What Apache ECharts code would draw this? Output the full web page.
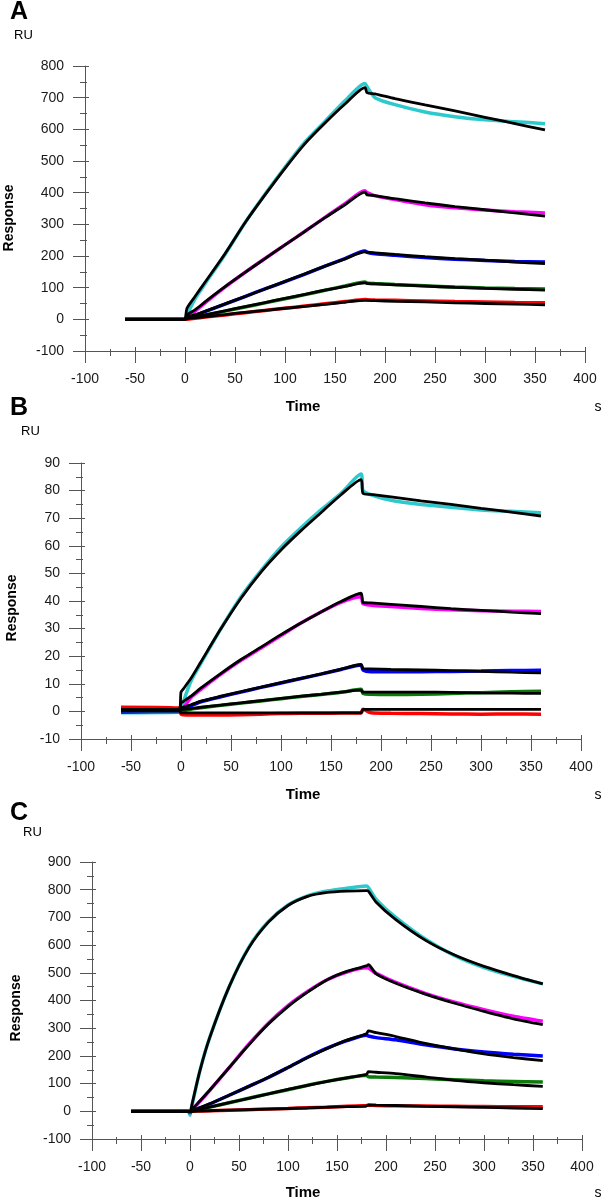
<!DOCTYPE html>
<html>
<head>
<meta charset="utf-8">
<script src="https://cdn.jsdelivr.net/npm/echarts@6/dist/echarts.min.js"></script>
<style>
html, body { margin: 0; padding: 0; background: #fff; }
#main { width: 608px; height: 1199px; }
</style>
</head>
<body>
<div id="main"></div>
<script>
// time points (s), shared by all curves
var times = [-60, -2, 0, 2, 10, 20, 40, 60, 80, 100, 120, 140, 160, 180, 182, 190, 210, 240, 270, 300, 330, 360];

// panel A (RU)
var cyanA = [0, 0, 0, 15, 65, 112, 205, 305, 395, 480, 560, 625, 690, 745, 735, 700, 678, 655, 640, 630, 624, 618];
var cyanAFit = [0, 0, 0, 35, 72, 117, 207, 305, 393, 477, 555, 620, 680, 732, 716, 712, 697, 677, 658, 638, 618, 598];
var magentaA = [0, 0, 0, 5, 25, 52, 102, 148, 192, 235, 278, 322, 365, 406, 400, 390, 378, 362, 352, 345, 340, 336];
var magentaAFit = [0, 0, 0, 14, 30, 55, 103, 148, 192, 235, 278, 321, 362, 402, 393, 391, 381, 368, 356, 346, 336, 326];
var blueA = [0, 0, 0, 3, 12, 24, 48, 72, 96, 119, 143, 168, 192, 216, 212, 207, 202, 195, 190, 186, 183, 181];
var blueAFit = [0, 0, 0, 7, 14, 25, 49, 72, 96, 120, 144, 168, 191, 213, 212, 210, 205, 198, 192, 187, 181, 176];
var greenA = [0, 0, 0, 1, 6.5, 13, 26, 39, 52, 65, 78, 92, 105, 118, 115, 113, 110, 106, 102, 99, 97, 96];
var greenAFit = [0, 0, 0, 4, 8, 14, 27, 40, 53, 66, 79, 92, 104, 115, 113, 112, 109, 105, 101, 98, 95, 92];
var redA = [0, 0, 0, 0.5, 3.5, 7, 14, 21, 28, 35, 42, 49, 56, 63, 62, 61, 60, 58, 56, 55, 53, 52];
var redAFit = [0, 0, 0, 2, 4.5, 8, 15, 22, 28, 35, 41, 47, 54, 60, 60, 59, 57, 55, 52, 50, 48, 46];

// panel B
var cyanB = [-0.5, -0.3, 0, 3, 11, 17.5, 30, 41.5, 51, 59.5, 66.5, 73, 79, 86, 80, 78.5, 76.5, 75, 74, 73, 72.5, 72];
var cyanBFit = [0.5, 0.5, 7, 8, 12, 18, 30, 41, 50.5, 58.5, 65.5, 72, 78.5, 84, 79, 78.6, 77.7, 76.3, 75, 73.6, 72.2, 70.8];
var magentaB = [-0.3, 0, 0, 1, 5, 8, 13.5, 18.5, 23, 27.5, 32, 36, 39.5, 41.5, 39, 38.5, 38, 37.3, 36.8, 36.5, 36.3, 36.2];
var magentaBFit = [0.5, 0.5, 3, 3.5, 5.5, 8.5, 13.8, 18.8, 23.3, 27.8, 32, 36, 39.8, 42.8, 39.5, 39.3, 38.8, 38, 37.2, 36.6, 36, 35.4];
var blueB = [-0.2, 0, 0, 0.5, 2, 3.5, 5.3, 7, 8.7, 10.3, 11.9, 13.5, 15.2, 16.8, 15, 14.4, 14.4, 14.4, 14.5, 14.6, 14.8, 14.9];
var blueBFit = [0.5, 0.5, 1.2, 1.5, 2.4, 3.7, 5.5, 7.2, 8.8, 10.4, 12, 13.6, 15.3, 17, 15.5, 15.4, 15.2, 15, 14.8, 14.5, 14.2, 14];
var greenB = [0.3, 0.2, 0, 0.2, 0.8, 1.3, 2.2, 3, 3.8, 4.6, 5.4, 6.1, 6.9, 8, 6.5, 6.2, 6.1, 6.2, 6.5, 6.8, 7.1, 7.3];
var greenBFit = [0.5, 0.5, 0.6, 0.7, 1, 1.5, 2.3, 3.1, 3.9, 4.7, 5.5, 6.2, 7, 7.7, 7, 7, 7, 7, 6.9, 6.7, 6.6, 6.5];
var redB = [1.5, 1.2, -1, -1.2, -1.3, -1.3, -1.3, -1.2, -1, -0.8, -0.7, -0.7, -0.6, -0.6, 0.8, -0.5, -0.7, -0.8, -0.9, -1, -0.9, -1];
var redBFit = [0.5, 0.5, -0.5, -0.5, -0.5, -0.5, -0.5, -0.5, -0.5, -0.5, -0.5, -0.5, -0.5, -0.5, 0.7, 0.7, 0.7, 0.7, 0.7, 0.7, 0.7, 0.7];

// panel C
var cyanC = [0, 0, -14, 20, 145, 265, 450, 592, 685, 745, 778, 795, 805, 813, 808, 765, 700, 622, 562, 519, 487, 460];
var cyanCFit = [0, 0, 0, 25, 145, 265, 450, 590, 683, 743, 776, 790, 795, 797, 795, 755, 692, 618, 564, 523, 490, 460];
var magentaC = [0, 0, -5, 5, 35, 75, 158, 242, 318, 382, 433, 475, 503, 518, 517, 498, 465, 426, 394, 367, 343, 325];
var magentaCFit = [0, 0, 0, 6, 37, 76, 158, 240, 315, 378, 430, 475, 505, 525, 529, 496, 462, 423, 390, 361, 334, 313];
var blueC = [0, 0, -3, 2, 12, 26, 58, 90, 122, 158, 195, 228, 255, 275, 272, 266, 258, 240, 225, 214, 206, 200];
var blueCFit = [0, 0, 0, 3, 13, 27, 58, 90, 123, 158, 194, 227, 257, 280, 290, 284, 270, 245, 225, 207, 194, 183];
var greenC = [0, 0, -2, 1, 7, 15, 31, 47, 63, 78, 94, 108, 120, 130, 125, 124, 122, 118, 114, 110, 108, 106];
var greenCFit = [0, 0, 0, 1, 7, 15, 31, 47, 63, 79, 94, 108, 121, 133, 143, 141, 136, 124, 112, 103, 96, 90];
var redC = [0, 0, -2, 0, 1, 2, 4, 6, 8, 10, 13, 15, 18, 21, 22, 21, 20, 19, 18, 17, 16, 16];
var redCFit = [0, 0, 0, 0, 1, 2, 4, 6, 8, 10, 12, 15, 17, 19, 23, 22, 21, 18, 16, 14, 12, 10];

// axis ranges
var xRange = { min: -100, max: 400, step: 50 };
var yRanges = [
	{ min: -100, max: 800, step: 100 },
	{ min: -10, max: 90, step: 10 },
	{ min: -100, max: 900, step: 100 }
];
var panelLetters = ['A', 'B', 'C'];
var curveColors = ['#2ec9cc', '#ff00ff', '#0000ff', '#0b7a0b', '#ff0000'];

var panels = [
	{ data: [cyanA, magentaA, blueA, greenA, redA], fit: [cyanAFit, magentaAFit, blueAFit, greenAFit, redAFit] },
	{ data: [cyanB, magentaB, blueB, greenB, redB], fit: [cyanBFit, magentaBFit, blueBFit, greenBFit, redBFit] },
	{ data: [cyanC, magentaC, blueC, greenC, redC], fit: [cyanCFit, magentaCFit, blueCFit, greenCFit, redCFit] }
];

// layout (pixels)
var grids = [
	{ left: 85, top: 66, width: 500, height: 285 },
	{ left: 81, top: 463, width: 500, height: 276 },
	{ left: 92, top: 862, width: 490, height: 277 }
];
var axisColor = '#555';
var fontFam = '"Liberation Sans", Arial, sans-serif';

function pairs(vals) {
	var out = [];
	for (var i = 0; i < times.length; i++) {
		out.push([times[i], vals[i]]);
	}
	return out;
}

// main axis = outside ticks + labels, inner axis = short inside ticks (so ticks cross the line)
function makeAxis(type, gridIndex, range, inner) {
	var ax = {
		type: 'value',
		gridIndex: gridIndex,
		min: range.min,
		max: range.max,
		interval: range.step,
		position: type == 'x' ? 'bottom' : 'left',
		axisLine: { show: !inner, onZero: false, lineStyle: { color: axisColor, width: 1 } },
		axisTick: { show: true, inside: inner, length: inner ? 4 : 12, lineStyle: { color: axisColor, width: 1 } },
		minorTick: { show: true, splitNumber: 2, length: inner ? 2 : 5, lineStyle: { color: axisColor, width: 1 } },
		axisLabel: { show: !inner, margin: 21, fontSize: 14, color: '#1a1a1a', fontFamily: fontFam },
		splitLine: { show: false },
		minorSplitLine: { show: false }
	};
	return ax;
}

var option = {
	animation: false,
	backgroundColor: '#fff',
	grid: [],
	xAxis: [],
	yAxis: [],
	series: [],
	graphic: []
};

for (var p = 0; p < 3; p++) {
	var g = grids[p];
	option.grid.push({ left: g.left, top: g.top, width: g.width, height: g.height, containLabel: false, outerBoundsMode: 'none' });
	option.xAxis.push(makeAxis('x', p, xRange, false));
	option.xAxis.push(makeAxis('x', p, xRange, true));
	option.yAxis.push(makeAxis('y', p, yRanges[p], false));
	option.yAxis.push(makeAxis('y', p, yRanges[p], true));

	// measured curves first, fitted black curves on top
	for (var k = 0; k < 5; k++) {
		option.series.push({
			type: 'line', xAxisIndex: p * 2, yAxisIndex: p * 2,
			data: pairs(panels[p].data[k]),
			showSymbol: false, silent: true,
			smooth: 0.25,
			lineStyle: { color: curveColors[k], width: 3.5 }
		});
	}
	for (var k = 0; k < 5; k++) {
		option.series.push({
			type: 'line', xAxisIndex: p * 2, yAxisIndex: p * 2,
			data: pairs(panels[p].fit[k]),
			showSymbol: false, silent: true,
			smooth: 0.25,
			lineStyle: { color: '#000', width: 2.8 }
		});
	}
}

// texts: letters, units, axis names
var letterPos = [[10, 0], [10, 396], [10, 801]];
var ruPos = [[14, 29], [21, 425], [23, 826]];
var respPos = [[9, 218], [12, 608], [16, 1008]];
var timeY = [407, 795, 1193];
for (var p = 0; p < 3; p++) {
	option.graphic.push({
		type: 'text', x: letterPos[p][0], y: letterPos[p][1],
		style: { text: panelLetters[p], font: 'bold 25px ' + fontFam, fill: '#000' }
	});
	option.graphic.push({
		type: 'text', x: ruPos[p][0], y: ruPos[p][1],
		style: { text: 'RU', font: '13px ' + fontFam, fill: '#000' }
	});
	option.graphic.push({
		type: 'text', x: respPos[p][0], y: respPos[p][1], rotation: Math.PI / 2,
		style: { text: 'Response', font: 'bold 14px ' + fontFam, fill: '#000', textAlign: 'center', textVerticalAlign: 'middle' }
	});
	option.graphic.push({
		type: 'text', x: 303, y: timeY[p],
		style: { text: 'Time', font: 'bold 15px ' + fontFam, fill: '#000', textAlign: 'center', textVerticalAlign: 'middle' }
	});
	option.graphic.push({
		type: 'text', x: 598, y: timeY[p],
		style: { text: 's', font: '14px ' + fontFam, fill: '#000', textAlign: 'center', textVerticalAlign: 'middle' }
	});
}

var myChart = echarts.init(document.getElementById('main'), null, { renderer: 'canvas' });
myChart.setOption(option);
</script>
</body>
</html>
